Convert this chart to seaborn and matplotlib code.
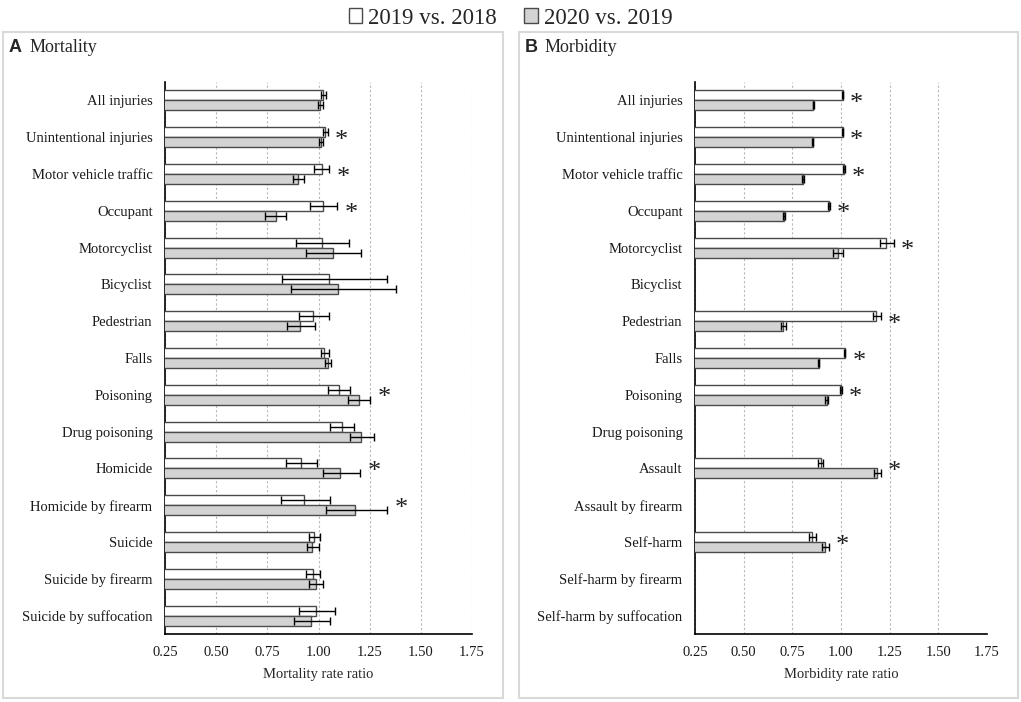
import numpy as np
import pandas as pd
import matplotlib
matplotlib.use("Agg")
import matplotlib.pyplot as plt
from matplotlib.patches import Rectangle, Patch
import seaborn as sns

# Dados
periodos = ["2019 vs. 2018", "2020 vs. 2019"]

cat_mort = ["All injuries", "Unintentional injuries", "Motor vehicle traffic", "Occupant",
            "Motorcyclist", "Bicyclist", "Pedestrian", "Falls", "Poisoning", "Drug poisoning",
            "Homicide", "Homicide by firearm", "Suicide", "Suicide by firearm",
            "Suicide by suffocation"]
mort_1918 = [1.024, 1.033, 1.017, 1.024, 1.017, 1.049, 0.972, 1.029, 1.101, 1.117, 0.914, 0.930, 0.980, 0.975, 0.989]
mort_1918_lo = [1.012, 1.022, 0.980, 0.960, 0.890, 0.820, 0.907, 1.013, 1.046, 1.057, 0.840, 0.816, 0.954, 0.940, 0.905]
mort_1918_hi = [1.036, 1.044, 1.050, 1.090, 1.150, 1.335, 1.049, 1.049, 1.155, 1.175, 0.992, 1.057, 1.008, 1.008, 1.082]
mort_2019 = [1.008, 1.012, 0.902, 0.790, 1.069, 1.093, 0.910, 1.046, 1.199, 1.209, 1.106, 1.176, 0.970, 0.987, 0.963]
mort_2019_lo = [0.997, 1.001, 0.875, 0.740, 0.940, 0.865, 0.848, 1.030, 1.144, 1.152, 1.020, 1.038, 0.943, 0.954, 0.878]
mort_2019_hi = [1.020, 1.023, 0.930, 0.840, 1.207, 1.379, 0.984, 1.060, 1.253, 1.269, 1.204, 1.335, 1.000, 1.021, 1.054]
mort_sig = [0, 1, 1, 1, 0, 0, 0, 0, 1, 0, 1, 1, 0, 0, 0]

cat_morb = ["All injuries", "Unintentional injuries", "Motor vehicle traffic", "Occupant",
            "Motorcyclist", "Bicyclist", "Pedestrian", "Falls", "Poisoning", "Drug poisoning",
            "Assault", "Assault by firearm", "Self-harm", "Self-harm by firearm",
            "Self-harm by suffocation"]
nan = np.nan
morb_1918 = [1.008, 1.008, 1.014, 0.939, 1.233, nan, 1.182, 1.020, 0.999, nan, 0.895, nan, 0.849, nan, nan]
morb_1918_lo = [1.005, 1.005, 1.010, 0.935, 1.199, nan, 1.162, 1.017, 0.994, nan, 0.883, nan, 0.835, nan, nan]
morb_1918_hi = [1.011, 1.011, 1.018, 0.943, 1.271, nan, 1.204, 1.023, 1.004, nan, 0.908, nan, 0.871, nan, nan]
morb_2019 = [0.857, 0.854, 0.806, 0.707, 0.985, nan, 0.703, 0.886, 0.926, nan, 1.186, nan, 0.917, nan, nan]
morb_2019_lo = [0.854, 0.851, 0.802, 0.703, 0.960, nan, 0.690, 0.883, 0.920, nan, 1.168, nan, 0.900, nan, nan]
morb_2019_hi = [0.860, 0.857, 0.810, 0.711, 1.011, nan, 0.720, 0.889, 0.932, nan, 1.203, nan, 0.939, nan, nan]
morb_sig = [1, 1, 1, 1, 1, 0, 1, 1, 1, 0, 1, 0, 1, 0, 0]

xticks = [0.25, 0.50, 0.75, 1.00, 1.25, 1.50, 1.75]

SERIF = "Liberation Serif"
cores = {"2019 vs. 2018": "white", "2020 vs. 2019": "#d3d3d3"}


def montar_df(cats, v1, l1, h1, v2, l2, h2):
    df1 = pd.DataFrame({"cat": cats, "periodo": periodos[0], "valor": v1, "lo": l1, "hi": h1})
    df2 = pd.DataFrame({"cat": cats, "periodo": periodos[1], "valor": v2, "lo": l2, "hi": h2})
    return pd.concat([df1, df2], ignore_index=True)


def desenhar_painel(ax, df, cats, sig, xlabel):
    sns.barplot(data=df.dropna(subset=["valor"]), y="cat", x="valor", hue="periodo",
                order=cats, hue_order=periodos, palette=cores, orient="h",
                width=0.54, gap=0, errorbar=None, edgecolor="#4a4a4a", linewidth=1.0,
                legend=False, ax=ax, zorder=3)

    # barras de erro a partir das posicoes das barras
    for cont, per in zip(ax.containers, periodos):
        sub = df[df["periodo"] == per].set_index("cat")
        for p in cont.patches:
            w = p.get_width()
            if not np.isfinite(w) or w == 0:
                continue
            yc = p.get_y() + p.get_height() / 2
            idx = int(round(yc))
            row = sub.loc[cats[idx]]
            ax.errorbar(row["valor"], yc, xerr=[[row["valor"] - row["lo"]], [row["hi"] - row["valor"]]],
                        fmt="none", ecolor="black", elinewidth=1.0, capsize=3, capthick=1.0, zorder=4)

    # asteriscos de significancia
    for i, s in enumerate(sig):
        if s:
            topo = df[df["cat"] == cats[i]]["hi"].max()
            ax.text(topo + 0.07, i + 0.1, "*", fontsize=19, family=SERIF,
                    ha="center", va="center", color="#202020")

    ax.set_xlim(0.25, 1.75)
    ax.set_ylim(len(cats) - 0.5, -0.5)
    ax.set_xticks(xticks)
    ax.set_xticklabels([f"{t:.2f}" for t in xticks], family=SERIF, fontsize=10.5)
    ax.set_yticks(range(len(cats)))
    ax.set_yticklabels(cats, family=SERIF, fontsize=10.5)
    ax.tick_params(axis="both", length=0, colors="#1a1a1a")
    ax.tick_params(axis="y", pad=9)
    ax.tick_params(axis="x", pad=9)
    ax.set_xlabel(xlabel, family=SERIF, fontsize=10.5, labelpad=6)
    ax.set_ylabel("")
    ax.grid(axis="x", color="#b8b8b8", linestyle=(0, (2, 2)), linewidth=0.8, zorder=0)
    ax.grid(axis="y", visible=False)
    ax.set_axisbelow(True)
    for lado in ["top", "right"]:
        ax.spines[lado].set_visible(False)
    for lado in ["left", "bottom"]:
        ax.spines[lado].set_color("black")
        ax.spines[lado].set_linewidth(1.2)
    ax.set_facecolor("white")


sns.set_theme(style="white")
plt.rcParams["font.family"] = [SERIF, "DejaVu Serif"]

fig = plt.figure(figsize=(10.21, 7.02), dpi=100)

# molduras dos paineis
for x0, w in [(3 / 1021, 500 / 1021), (519 / 1021, 499 / 1021)]:
    fig.add_artist(Rectangle((x0, 4 / 702), w, 666 / 702, transform=fig.transFigure,
                             fill=False, edgecolor="#d9d9d9", linewidth=1.5))

ax1 = fig.add_axes([165 / 1021, 1 - 634 / 702, 307 / 1021, 552 / 702])
ax2 = fig.add_axes([695 / 1021, 1 - 634 / 702, 292 / 1021, 552 / 702])

df_mort = montar_df(cat_mort, mort_1918, mort_1918_lo, mort_1918_hi, mort_2019, mort_2019_lo, mort_2019_hi)
df_morb = montar_df(cat_morb, morb_1918, morb_1918_lo, morb_1918_hi, morb_2019, morb_2019_lo, morb_2019_hi)

desenhar_painel(ax1, df_mort, cat_mort, mort_sig, "Mortality rate ratio")
desenhar_painel(ax2, df_morb, cat_morb, morb_sig, "Morbidity rate ratio")

# titulos dos paineis
fig.text(9 / 1021, 1 - 47 / 702, "A", family="Liberation Sans", fontweight="bold", fontsize=13, va="center")
fig.text(30 / 1021, 1 - 47 / 702, "Mortality", family=SERIF, fontsize=13, va="center")
fig.text(525 / 1021, 1 - 47 / 702, "B", family="Liberation Sans", fontweight="bold", fontsize=13, va="center")
fig.text(545 / 1021, 1 - 47 / 702, "Morbidity", family=SERIF, fontsize=13, va="center")

# legenda
handles = [Patch(facecolor=cores[p], edgecolor="#4a4a4a", linewidth=1.0, label=p) for p in periodos]
fig.legend(handles=handles, loc="center", bbox_to_anchor=(0.5, 1 - 18 / 702), ncol=2,
           frameon=False, prop={"family": SERIF, "size": 16.5}, handlelength=0.6, handleheight=0.6,
           handletextpad=0.25, columnspacing=1.2)

fig.savefig("out.png", dpi=100)
